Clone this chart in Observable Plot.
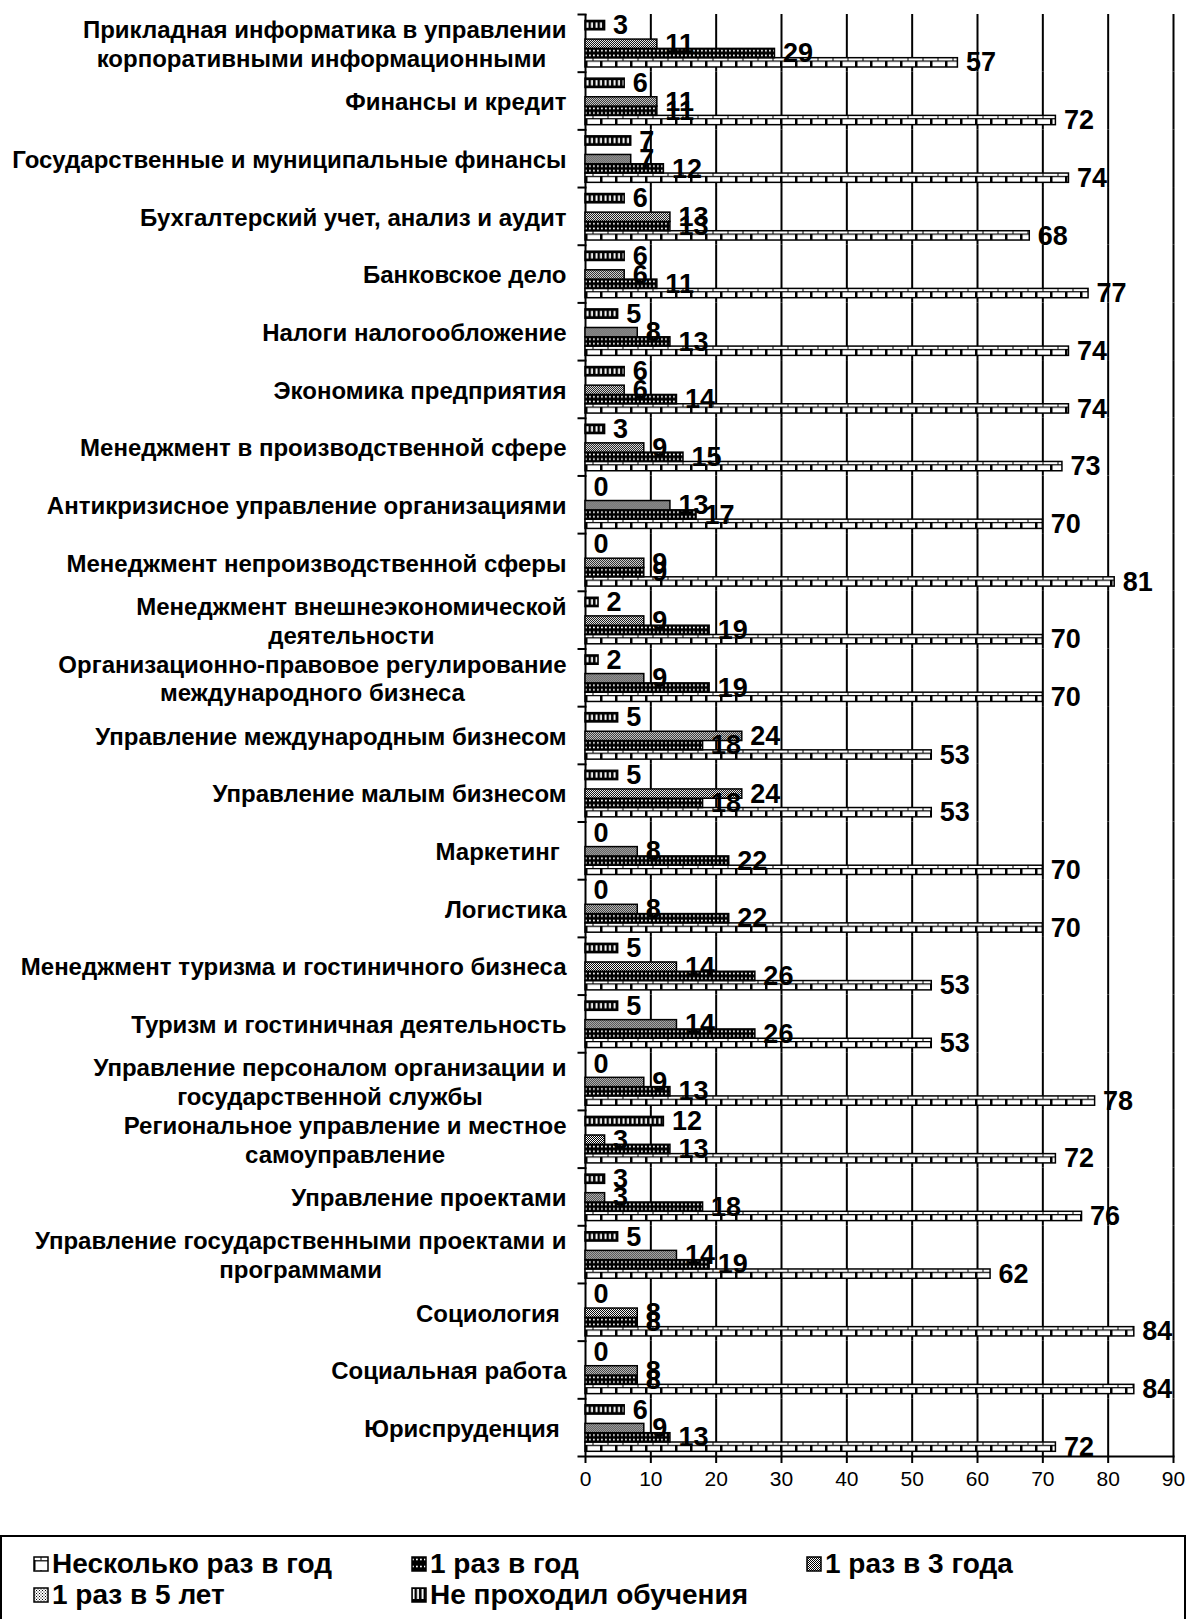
<!DOCTYPE html>
<html><head><meta charset="utf-8">
<script src="https://cdn.jsdelivr.net/npm/d3@7"></script>
<script src="https://cdn.jsdelivr.net/npm/@observablehq/plot@0.6"></script>
<style>
html,body{margin:0;padding:0;background:#fff;}
body{width:1188px;height:1619px;overflow:hidden;position:relative;font-family:"Liberation Sans",Arial,sans-serif;color:#000;}
#chart svg text{white-space:pre;}
#legend{position:absolute;left:0;top:1535px;width:1186px;height:100px;border:2px solid #000;box-sizing:border-box;}
.item{position:absolute;display:flex;align-items:center;font-weight:bold;font-size:28px;line-height:28px;white-space:nowrap;}
.item svg{margin-right:3px;}
</style></head><body>
<svg width="0" height="0" style="position:absolute"><defs id="pdefs"></defs></svg>
<div id="chart"></div>
<div id="legend"></div>
<script>
// ---- data ----
const categories = [
  "Прикладная информатика в управлении\nкорпоративными информационными ",
  "Финансы и кредит",
  "Государственные и муниципальные финансы",
  "Бухгалтерский учет, анализ и аудит",
  "Банковское дело",
  "Налоги налогообложение",
  "Экономика предприятия",
  "Менеджмент в производственной сфере",
  "Антикризисное управление организациями",
  "Менеджмент непроизводственной сферы",
  "Менеджмент внешнеэкономической\nдеятельности",
  "Организационно-правовое регулирование\nмеждународного бизнеса",
  "Управление международным бизнесом",
  "Управление малым бизнесом",
  "Маркетинг ",
  "Логистика",
  "Менеджмент туризма и гостиничного бизнеса",
  "Туризм и гостиничная деятельность",
  "Управление персоналом организации и\nгосударственной службы",
  "Региональное управление и местное\nсамоуправление",
  "Управление проектами",
  "Управление государственными проектами и\nпрограммами",
  "Социология ",
  "Социальная работа",
  "Юриспруденция "
];
const seriesNames = ["Несколько раз в год", "1 раз в год", "1 раз в 3 года", "1 раз в 5 лет", "Не проходил обучения"];
const neskolkoRaz = [57,72,74,68,77,74,74,73,70,81,70,70,53,53,70,70,53,53,78,72,76,62,84,84,72];
const razVGod     = [29,11,12,13,11,13,14,15,17, 9,19,19,18,18,22,22,26,26,13,13,18,19, 8, 8,13];
const razV3Goda   = [11,11, 7,13, 6, 8, 6, 9,13, 9, 9, 9,24,24, 8, 8,14,14, 9, 3, 3,14, 8, 8, 9];
const razV5Let    = []; // no bars shown for this series
const neProhodil  = [ 3, 6, 7, 6, 6, 5, 6, 3, 0, 0, 2, 2, 5, 5, 0, 0, 5, 5, 0,12, 3, 5, 0, 0, 6];
const xTicks = [0,10,20,30,40,50,60,70,80,90];

const seriesValues = [neskolkoRaz, razVGod, razV3Goda, razV5Let, neProhodil];
const patternIds = ["p-brick", "p-dots", "p-check", "p-check5", "p-stripes"];
const yOrder = [...seriesNames].reverse(); // top to bottom inside each group

const rows = [];
seriesNames.forEach((s, si) => categories.forEach((c, ci) => {
  const v = seriesValues[si][ci];
  if (v != null) rows.push({category: c, series: s, value: v});
}));

// ---- layout ----
const W = 1188, H = 1501, mL = 585, mR = 15, mT = 14, mB = 45;
const plotW = W - mL - mR;
const catFont = 24, catFontCss = `bold ${catFont}px "Liberation Sans"`;
const ctx = document.createElement("canvas").getContext("2d");
ctx.font = catFontCss;
const xs = Plot.scale({x: {domain: [0, 90], range: [mL, W - mR]}});
const labelRight = mL - 19;
const labelX = c => {
  const w = d3.max(c.split("\n"), l => ctx.measureText(l).width);
  return xs.invert(labelRight - w / 2);
};

const marks = [
  Plot.ruleX(xTicks, {stroke: "#000", strokeWidth: 2}),
  Plot.frame({anchor: "top", insetLeft: -7, insetRight: plotW, stroke: "#000", strokeWidth: 2}),
  Plot.frame({anchor: "bottom", facetAnchor: "bottom", insetLeft: -7, stroke: "#000", strokeWidth: 2}),
];
seriesNames.forEach((s, si) => {
  const d = rows.filter(r => r.series === s);
  if (d.length) marks.push(Plot.barX(d, {fy: "category", y: "series", x: "value", fill: `url(#${patternIds[si]})`, stroke: "#000", strokeWidth: 1.5}));
});
marks.push(
  Plot.text(rows, {fy: "category", y: "series", x: "value", text: d => String(d.value), dx: 8, textAnchor: "start", fontSize: 27, fontWeight: "bold", fill: "#000"}),
  Plot.text(categories, {fy: d => d, x: labelX, text: d => d, textAnchor: "middle", lineHeight: 1.2, fontSize: catFont, fontWeight: "bold", fill: "#000"}),
  Plot.axisX(xTicks, {anchor: "bottom", tickSize: 7, tickPadding: 8, fontSize: 21, label: null, stroke: "#000", strokeWidth: 2, fill: "#000"})
);

const plot = Plot.plot({
  width: W, height: H,
  marginTop: mT, marginBottom: mB, marginLeft: mL, marginRight: mR,
  style: {fontFamily: '"Liberation Sans", Arial, sans-serif', color: "#000", background: "#fff", overflow: "visible"},
  x: {domain: [0, 90], axis: null},
  y: {domain: yOrder, paddingInner: 0, paddingOuter: 0.6, align: 0.58, round: false, axis: null},
  fy: {domain: categories, padding: 0, round: false, axis: null},
  marks
});
document.getElementById("chart").append(plot);

// ---- patterns ----
const defs = d3.select("#pdefs");
function buildPattern(id, kind, y0, h) {
  defs.select("#" + id).remove();
  const p = defs.append("pattern").attr("id", id).attr("patternUnits", "userSpaceOnUse").attr("x", 0).attr("y", y0);
  if (kind === "brick") {
    p.attr("width", 15).attr("height", h);
    p.append("rect").attr("width", 15).attr("height", h).attr("fill", "#fff");
    p.append("rect").attr("x", 0).attr("y", h * 0.3).attr("width", 15).attr("height", 1.2).attr("fill", "#000");
    p.append("rect").attr("x", 0).attr("y", h * 0.3).attr("width", 2.5).attr("height", h).attr("fill", "#000");
    p.append("rect").attr("x", 7.5).attr("y", 0).attr("width", 1).attr("height", h * 0.3).attr("fill", "#000");
  } else if (kind === "dots") {
    p.attr("width", 4).attr("height", h / 2);
    p.append("rect").attr("width", 4).attr("height", h / 2).attr("fill", "#000");
    p.append("rect").attr("x", 1).attr("y", h / 4 - 0.8).attr("width", 1.8).attr("height", 1.6).attr("fill", "#fff");
  } else if (kind === "check") {
    p.attr("width", 2).attr("height", 2);
    p.append("rect").attr("width", 2).attr("height", 2).attr("fill", "#fff");
    p.append("rect").attr("x", 0).attr("y", 0).attr("width", 1).attr("height", 1).attr("fill", "#000");
    p.append("rect").attr("x", 1).attr("y", 1).attr("width", 1).attr("height", 1).attr("fill", "#000");
  } else if (kind === "check5") {
    p.attr("width", 3).attr("height", 3);
    p.append("rect").attr("width", 3).attr("height", 3).attr("fill", "#fff");
    p.append("rect").attr("x", 0).attr("y", 0).attr("width", 1).attr("height", 1).attr("fill", "#000");
    p.append("rect").attr("x", 1.5).attr("y", 1.5).attr("width", 1).attr("height", 1).attr("fill", "#000");
  } else if (kind === "stripes") {
    p.attr("width", 4.5).attr("height", h);
    p.append("rect").attr("width", 4.5).attr("height", h).attr("fill", "#000");
    p.append("rect").attr("x", 1.5).attr("y", 2).attr("width", 2).attr("height", Math.max(1, h - 4)).attr("fill", "#fff");
  }
}
const kinds = ["brick", "dots", "check", "check5", "stripes"];
const yScale = plot.scale("y");
patternIds.forEach((id, i) => {
  const r = plot.querySelector(`g[fill="url(#${id})"] rect`);
  const y0 = r ? +r.getAttribute("y") : 0;
  const h = r ? +r.getAttribute("height") : yScale.bandwidth;
  buildPattern(id, kinds[i], y0, h);
  buildPattern(id + "-lg", kinds[i], 0, 14);
});

// ---- legend ----
const legendPos = [[33, 1550], [411, 1550], [806, 1550], [33, 1581], [411, 1581]];
seriesNames.forEach((s, i) => {
  const div = document.createElement("div");
  div.className = "item";
  div.style.left = legendPos[i][0] + "px";
  div.style.top = legendPos[i][1] + "px";
  div.innerHTML = `<svg width="16" height="16"><rect x="1" y="1" width="14" height="14" fill="url(#${patternIds[i]}-lg)" stroke="#000" stroke-width="1.5"/></svg><span>${s}</span>`;
  document.body.append(div);
});
</script>
</body></html>
